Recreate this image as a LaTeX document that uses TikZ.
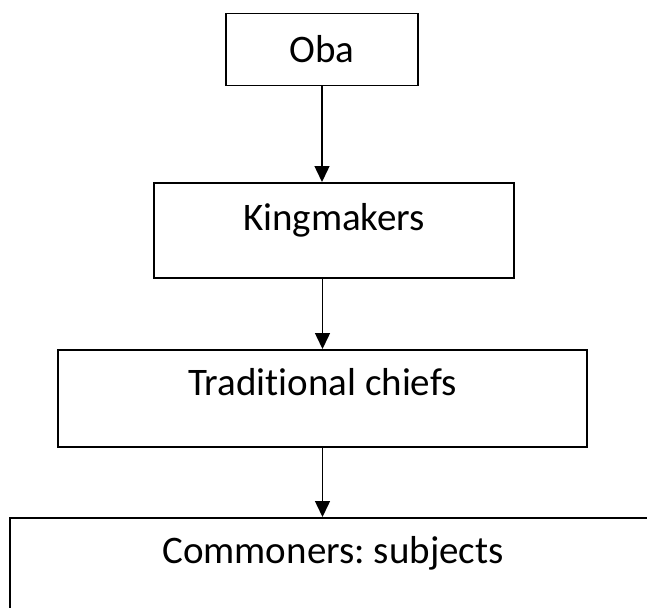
\documentclass[tikz,border=0pt]{standalone}
\usepackage{fontspec}
\setmainfont[Ligatures={NoCommon}]{Carlito}
\frenchspacing
\usetikzlibrary{arrows.meta}
\tikzset{
  box/.style={draw=black, line width=1.5pt, rectangle, inner sep=0pt, anchor=north,
    font=\fontsize{39}{44}\selectfont, align=center},
  arr/.style={draw=black, line width=1.5pt, -{Triangle[length=16pt,width=15pt]}}
}
\begin{document}
\begin{tikzpicture}[x=1pt,y=-1pt]
\useasboundingbox (0,0) rectangle (647,607);
\clip (0,0) rectangle (647,607);
\node[box, minimum width=192pt, text height=49pt, text depth=23pt] (o) at (322,13) {Oba};
\node[box, minimum width=360pt, text height=48pt, text depth=47pt] (k) at (334,182) {Kingmakers};
\node[box, minimum width=529pt, text height=46pt, text depth=51pt] (t) at (322.5,349) {Traditional chiefs};
\node[box, minimum width=646pt, text height=46pt, text depth=120pt] (c) at (333,517) {Commoners: subjects};
\draw[arr] (o.south) -- (o.south |- k.north);
\draw[arr] (k.south -| t.north) -- (t.north);
\draw[arr] (t.south) -- (t.south |- c.north);
\end{tikzpicture}
\end{document}
